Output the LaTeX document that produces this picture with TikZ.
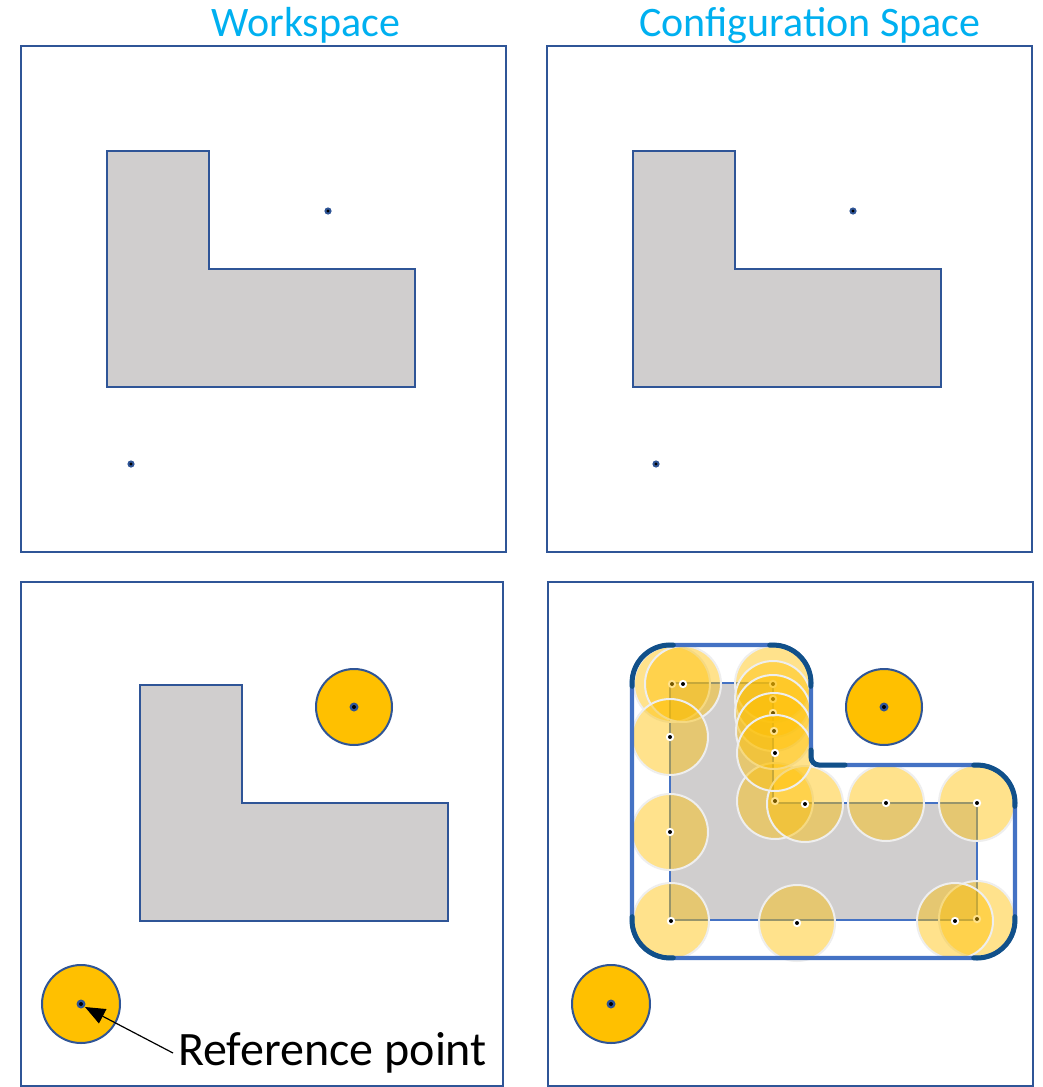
\documentclass[tikz,border=0pt]{standalone}
\usepackage{fontspec}
\setmainfont{Carlito}
\usetikzlibrary{arrows.meta}
\definecolor{frameblue}{HTML}{2F5597}
\definecolor{lightblue}{HTML}{4472C4}
\definecolor{darkarc}{HTML}{11508A}
\definecolor{obsgrey}{HTML}{D0CECE}
\definecolor{titlecyan}{HTML}{00B0F0}
\definecolor{robotyellow}{HTML}{FFC000}
\definecolor{ringgrey}{HTML}{EEEEEE}
\tikzset{
  panel/.style={draw=frameblue, line width=2.2pt, fill=white},
  obstacle/.style={draw=frameblue, line width=1.6pt, fill=obsgrey},
  obstaclec/.style={draw=lightblue, line width=2.4pt, fill=obsgrey},
  robot/.style={draw=frameblue, line width=2pt, fill=robotyellow},
  ghost/.style={fill=robotyellow, fill opacity=0.45, draw=ringgrey, draw opacity=1, line width=2pt},
  title/.style={text=titlecyan, font=\fontsize{42}{46}\selectfont, anchor=base, inner sep=0pt},
  cbound/.style={draw=lightblue, line width=4.2pt, line join=round},
  carc/.style={draw=darkarc, line width=5pt, line cap=round}
}
\newcommand{\refdot}[1]{\fill[frameblue] #1 circle[radius=3.6]; \fill[black] #1 circle[radius=1.6];}
\newcommand{\robotdot}[1]{\fill[frameblue] #1 circle[radius=4.5]; \fill[black] #1 circle[radius=2];}
\newcommand{\ghostdot}[1]{\fill[white] #1 circle[radius=4.2]; \fill[black] #1 circle[radius=2];}
\begin{document}
\begin{tikzpicture}[x=1pt,y=-1pt]
\useasboundingbox (0,0) rectangle (1043,1087);
\fill[white] (0,0) rectangle (1043,1087);

% titles
\node[title] (tws) at (306,36) {Workspace};
\node[title] (tcs) at (810,36) {Configuration Space};

% panels
\draw[panel] (21,46) rectangle (506,552);
\draw[panel] (547,46) rectangle (1032,552);
\draw[panel] (21,582) rectangle (503,1086);
\draw[panel] (548,582) rectangle (1033,1086);

% top-left
\draw[obstacle] (107,151) -- (209,151) -- (209,269) -- (415,269) -- (415,387) -- (107,387) -- cycle;
\refdot{(328,211)}
\refdot{(131,464)}

% top-right
\draw[obstacle] (633,151) -- (735,151) -- (735,269) -- (941,269) -- (941,387) -- (633,387) -- cycle;
\refdot{(853,211)}
\refdot{(656,464)}

% bottom-left
\draw[obstacle] (140,685) -- (242,685) -- (242,803) -- (448,803) -- (448,921) -- (140,921) -- cycle;
\draw[robot] (354,707) circle[radius=38];
\robotdot{(354,707)}
\draw[robot] (81,1004) circle[radius=39];
\robotdot{(81,1004)}
\coordinate (refpt) at (85,1007);
\coordinate (arrowstart) at (173,1053);
\node[font=\fontsize{48}{52}\selectfont, anchor=base west, inner sep=0pt] (reflabel) at (178,1065) {Reference point};
\draw[line width=1.2pt, -{Triangle[length=20pt,width=16pt]}] (arrowstart) -- (refpt);

% bottom-right
\draw[obstaclec] (670,683) -- (773,683) -- (773,803) -- (977,803) -- (977,920) -- (670,920) -- cycle;
\foreach \px/\py in {672/684, 683/684, 670/737, 670/832, 671/921, 797/923, 977/919, 955/921, 977/803, 886/803, 775/801, 805/804, 773/684, 773/699, 773/713, 774/731, 775/753}{
  \path[ghost] (\px,\py) circle[radius=38];
  \ghostdot{(\px,\py)}
}
\draw[cbound] (670,645) -- (773,645) arc[start angle=270, end angle=360, radius=38]
  -- (811,757) arc[start angle=180, end angle=90, radius=8]
  -- (977,765) arc[start angle=270, end angle=360, radius=38]
  -- (1015,920) arc[start angle=0, end angle=90, radius=38]
  -- (670,958) arc[start angle=90, end angle=180, radius=38]
  -- (632,683) arc[start angle=180, end angle=270, radius=38] -- cycle;
\draw[carc] (670,683) ++(175:38) arc[start angle=175, end angle=275, radius=38];
\draw[carc] (773,683) ++(265:38) arc[start angle=265, end angle=365, radius=38];
\draw[carc] (977,803) ++(265:38) arc[start angle=265, end angle=365, radius=38];
\draw[carc] (977,920) ++(-5:38) arc[start angle=-5, end angle=95, radius=38];
\draw[carc] (670,920) ++(85:38) arc[start angle=85, end angle=185, radius=38];
\draw[carc] (811,750) -- (811,757) arc[start angle=180, end angle=90, radius=8] -- (845,765);

\draw[robot] (884,707) circle[radius=38];
\robotdot{(884,707)}
\draw[robot] (611,1004) circle[radius=39];
\robotdot{(611,1004)}
\end{tikzpicture}
\end{document}
